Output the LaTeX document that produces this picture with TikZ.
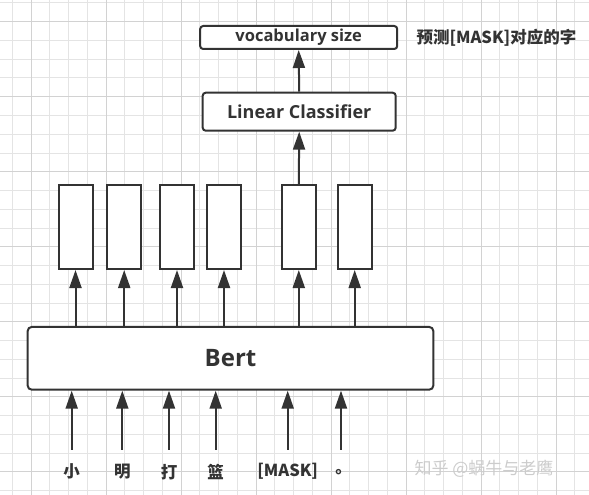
\documentclass[tikz,border=0pt]{standalone}
\usepackage{fontspec}
\setmainfont{Open Sans}
\newfontfamily\cjk{Noto Sans CJK SC}
\usetikzlibrary{arrows.meta}

\definecolor{ink}{HTML}{333333}
\definecolor{gridminor}{HTML}{E4E4E4}
\definecolor{gridmajor}{HTML}{D2D2D2}

\tikzset{
  box/.style={draw=ink, line width=2pt, rounded corners=3pt, fill=white, inner sep=0pt, text=ink},
  vec/.style={draw=ink, line width=2pt, fill=white, minimum width=34pt, minimum height=84pt, inner sep=0pt},
  arr/.style={draw=ink, line width=2pt, -{Triangle[length=18pt,width=12pt]}},
  word/.style={text=ink, inner sep=0pt, font=\cjk\bfseries\fontsize{16.5}{16.5}\selectfont},
}

\begin{document}
\begin{tikzpicture}[x=1pt,y=-1pt]
    \useasboundingbox (0,0) rectangle (589,495);

    % Background grid
    \foreach \i in {0,...,30} {
        \draw[gridminor, line width=1pt] (12.25+18.75*\i,0) -- (12.25+18.75*\i,495);
    }
    \foreach \i in {0,...,26} {
        \draw[gridminor, line width=1pt] (0,3+18.75*\i) -- (589,3+18.75*\i);
    }
    \foreach \i in {0,...,7} {
        \draw[gridmajor, line width=1pt] (31+75*\i,0) -- (31+75*\i,495);
    }
    \foreach \i in {0,...,6} {
        \draw[gridmajor, line width=1pt] (0,21.75+75*\i) -- (589,21.75+75*\i);
    }

    % Output head
    \node[box, minimum width=197pt, minimum height=23pt, font=\bfseries\fontsize{16.5}{18}\selectfont] (vocab) at (298.7,37.5) {vocabulary size};
    \node[box, minimum width=193pt, minimum height=38pt, font=\bfseries\fontsize{18}{20}\selectfont] (clf) at (299.2,111.7) {Linear Classifier};
    \node[anchor=west, text=ink, font=\cjk\bfseries\fontsize{16.5}{16.5}\selectfont] (note) at (413,38) {预测[MASK]对应的字};

    % Encoder
    \node[box, rounded corners=4pt, minimum width=405.6pt, minimum height=62.7pt, font=\bfseries\fontsize{24}{26}\selectfont] (bert) at (230.5,358.3) {Bert};

    % Hidden vectors
    \foreach \x [count=\i] in {75.5,124.2,177,224,298.8,354.7} {
        \node[vec] (h\i) at (\x,227) {};
        \draw[arr] (bert.north -| h\i.south) -- (h\i.south);
    }
    \draw[arr] (h5.north) -- (clf.south);
    \draw[arr] (clf.north) -- (vocab.south);

    % Input tokens
    \foreach \x/\w [count=\i] in {71.7/小, 122.3/明, 169/打, 215.7/篮, 287.7/[MASK], 341/\hspace*{5pt}。} {
        \node[word] (w\i) at (\x,471.7) {\w};
        \draw[arr, shorten <=22pt] (w\i.center) -- (w\i.center |- bert.south);
    }

    % Watermark
    \node[anchor=west, text=gray!40, font=\cjk\fontsize{17}{17}\selectfont] (mark) at (411,469) {知乎 @蜗牛与老鹰};
\end{tikzpicture}
\end{document}
